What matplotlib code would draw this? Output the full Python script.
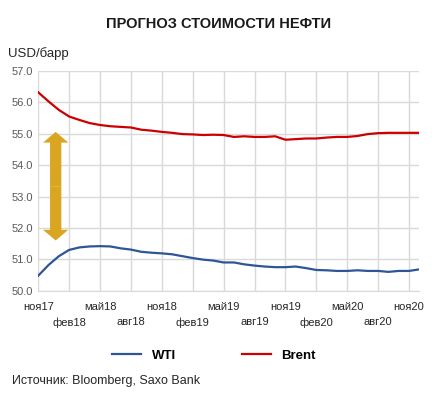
import numpy as np
import matplotlib.pyplot as plt

plt.rcParams['font.family'] = ['Liberation Sans', 'DejaVu Sans']

# месяцы: ноя17 ... дек20 (38 точек)
tick_labels = ["ноя17", "фев18", "май18", "авг18", "ноя18", "фев19", "май19",
               "авг19", "ноя19", "фев20", "май20", "авг20", "ноя20"]

wti = [50.48, 50.82, 51.10, 51.30, 51.38, 51.41, 51.42, 51.41, 51.35, 51.31,
       51.24, 51.21, 51.19, 51.16, 51.10, 51.04, 50.99, 50.96, 50.90, 50.90,
       50.84, 50.80, 50.77, 50.75, 50.75, 50.77, 50.72, 50.66, 50.65, 50.63,
       50.63, 50.65, 50.63, 50.63, 50.60, 50.63, 50.63, 50.68]

brent = [56.32, 56.03, 55.76, 55.55, 55.44, 55.34, 55.28, 55.24, 55.22, 55.20,
         55.13, 55.10, 55.06, 55.03, 54.99, 54.98, 54.96, 54.97, 54.96, 54.90,
         54.92, 54.90, 54.90, 54.92, 54.81, 54.83, 54.85, 54.85, 54.88, 54.90,
         54.90, 54.93, 54.99, 55.02, 55.03, 55.03, 55.03, 55.03]

# стрелка разрыва
arrow_x = 1.69
arrow_top = 55.06
arrow_bottom = 51.60

fig = plt.figure(figsize=(4.37, 3.93), dpi=100)
ax = fig.add_axes([0.0876, 0.2603, 0.8719, 0.559])

x = np.arange(len(wti))
ax.plot(x, wti, color="#2F5597", lw=1.6, label="WTI")
ax.plot(x, brent, color="#CC0000", lw=1.6, label="Brent")

# двойная стрелка: две половины от середины
arrow_mid = (arrow_top + arrow_bottom) / 2
for tip in (arrow_top, arrow_bottom):
    ax.annotate("", xy=(arrow_x, tip), xytext=(arrow_x, arrow_mid),
                arrowprops=dict(arrowstyle="simple,head_length=0.55,"
                                "head_width=1.3,tail_width=0.58",
                                facecolor="#DAA520", edgecolor="none", lw=0,
                                shrinkA=0, shrinkB=0, mutation_scale=14))

ax.set_xlim(0, len(wti) - 1)
ax.set_ylim(50, 57)
ax.set_yticks(np.arange(50, 57.5, 1.0))
ax.set_yticklabels([f"{v:.1f}" for v in np.arange(50, 57.5, 1.0)],
                   fontsize=8, color="#595959")

tick_pos = np.arange(0, len(wti), 3)
ax.set_xticks(tick_pos)
ax.set_xticklabels([lab if i % 2 == 0 else "\n" + lab
                    for i, lab in enumerate(tick_labels)],
                   fontsize=8, color="#262626", linespacing=1.7)
ax.tick_params(axis="x", length=0, pad=8)
ax.tick_params(axis="y", length=0, pad=4)

ax.grid(True, color="#D9D9D9", lw=1)
ax.set_axisbelow(True)
for s in ax.spines.values():
    s.set_visible(False)
ax.spines["bottom"].set_visible(True)
ax.spines["bottom"].set_color("#D9D9D9")

fig.text(0.5, 0.94, "ПРОГНОЗ СТОИМОСТИ НЕФТИ", ha="center", va="center",
         fontsize=10.5, fontweight="bold", color="#1a1a1a")
fig.text(0.018, 0.864, "USD/барр", ha="left", va="center", fontsize=9.5,
         color="#262626")
fig.text(0.027, 0.031, "Источник: Bloomberg, Saxo Bank", ha="left",
         va="center", fontsize=9, color="#262626")

leg = fig.legend(loc="center", bbox_to_anchor=(0.49, 0.095), ncol=2,
                 frameon=False, handlelength=2.2, columnspacing=5,
                 prop={"weight": "bold", "size": 9.5})

fig.savefig("out.png", dpi=100)
